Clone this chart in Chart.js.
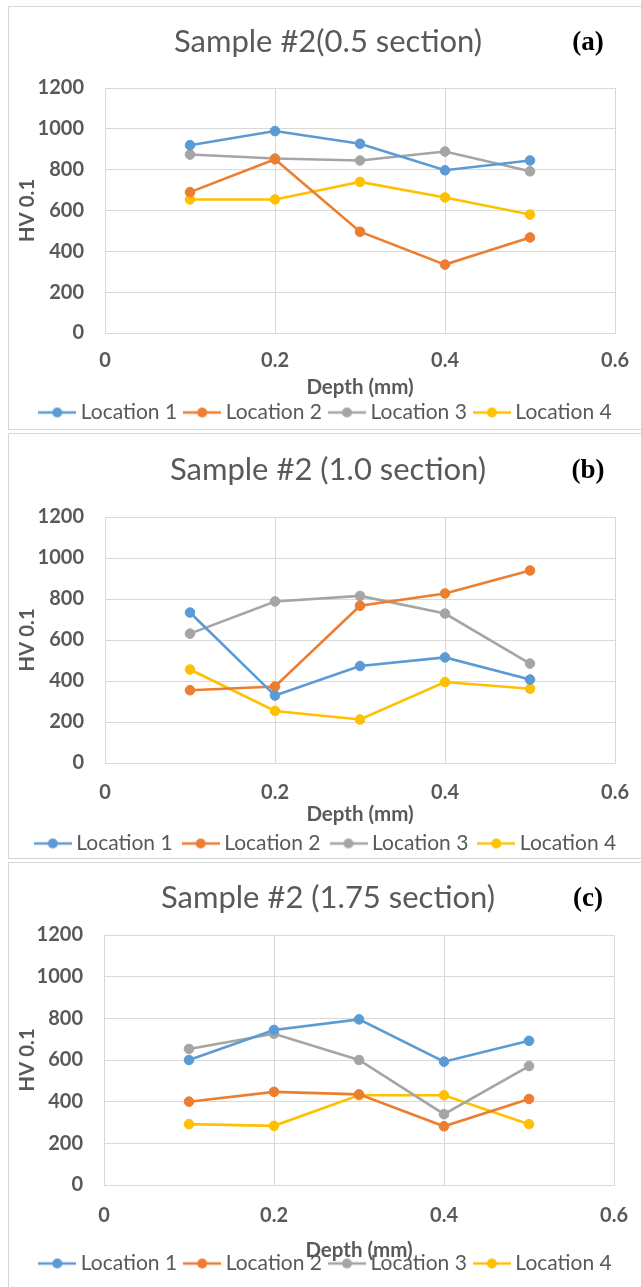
<!DOCTYPE html>
<html><head><meta charset="utf-8">
<script src="https://cdn.jsdelivr.net/npm/chart.js@4"></script>
<style>
html,body{margin:0;padding:0;background:#fff;}
body{width:641px;height:1287px;position:relative;overflow:hidden;}
.frame{position:absolute;border:1px solid #d6d6d6;box-sizing:border-box;}
canvas{position:absolute;}
</style></head><body>
<div class="frame" style="left:8px;top:6px;width:650px;height:424px"></div>
<div class="frame" style="left:8px;top:433px;width:650px;height:426px"></div>
<div class="frame" style="left:8px;top:862px;width:650px;height:440px"></div>
<canvas id="c0"></canvas>
<canvas id="c1"></canvas>
<canvas id="c2"></canvas>
<script>
// ---- data ----
const depth = [0.1, 0.2, 0.3, 0.4, 0.5];
const seriesNames = ['Location 1', 'Location 2', 'Location 3', 'Location 4'];
const xTicks = [0, 0.2, 0.4, 0.6];
const yTicks = [0, 200, 400, 600, 800, 1000, 1200];
const panelTitles = ['Sample #2(0.5 section)', 'Sample #2 (1.0 section)', 'Sample #2 (1.75 section)'];
const panelTags = ['(a)', '(b)', '(c)'];

// (a) 0.5 section
const a_loc1 = [920, 989, 927, 797, 845];
const a_loc2 = [690, 851, 496, 335, 468];
const a_loc3 = [874, 855, 845, 889, 792];
const a_loc4 = [654, 654, 740, 664, 580];
// (b) 1.0 section
const b_loc1 = [734, 329, 473, 515, 407];
const b_loc2 = [355, 373, 767, 827, 939];
const b_loc3 = [631, 788, 815, 729, 485];
const b_loc4 = [456, 254, 212, 395, 362];
// (c) 1.75 section
const c_loc1 = [600, 744, 795, 592, 692];
const c_loc2 = [400, 447, 435, 282, 413];
const c_loc3 = [653, 726, 600, 340, 571];
const c_loc4 = [292, 284, 431, 431, 292];

const panelData = [
  [a_loc1, a_loc2, a_loc3, a_loc4],
  [b_loc1, b_loc2, b_loc3, b_loc4],
  [c_loc1, c_loc2, c_loc3, c_loc4]
];

// ---- styling / layout ----
const colors = ['#5B9BD5', '#ED7D31', '#A5A5A5', '#FFC000'];
const TXT = '#595959';
const GRID = '#d9d9d9';
const FONT = 'Lato, "Open Sans", sans-serif';
const CL = 9, CW = 638;
const LEG = 21;
const layouts = [
  {top: 7,   plotTop: 88,  plotBottom: 331,  plotLeft: 105, plotRight: 615, titleY: 42,  tickY: 359,  xTitleY: 385,  legendY: 410,  pad: 12},
  {top: 434, plotTop: 517, plotBottom: 758,  plotLeft: 105, plotRight: 615, titleY: 470, tickY: 788,  xTitleY: 809,  legendY: 838,  pad: 15},
  {top: 863, plotTop: 935, plotBottom: 1183, plotLeft: 104, plotRight: 615, titleY: 898, tickY: 1214, xTitleY: 1248, legendY: 1261, pad: 12}
];

function legendImage(color) {
  const c = document.createElement('canvas');
  c.width = 38; c.height = 14;
  const g = c.getContext('2d');
  g.strokeStyle = color; g.lineWidth = 2.5;
  g.beginPath(); g.moveTo(0, 7); g.lineTo(38, 7); g.stroke();
  g.fillStyle = color;
  g.beginPath(); g.arc(19, 7, 5, 0, Math.PI * 2); g.fill();
  return c;
}
const legendImgs = colors.map(legendImage);

function makeChart(idx) {
  const L = layouts[idx];
  const titleSize = 31, titleLH = titleSize * 1.2;
  const legendTop = L.legendY - L.pad - LEG / 2;
  const canvasH = Math.ceil(legendTop + 2 * L.pad + LEG - L.top);
  const cv = document.getElementById('c' + idx);
  cv.width = CW; cv.height = canvasH;
  cv.style.left = CL + 'px'; cv.style.top = L.top + 'px';
  cv.style.width = CW + 'px'; cv.style.height = canvasH + 'px';
  const tPadTop = L.titleY - L.top - titleLH / 2;
  const tPadBot = (L.plotTop - L.top) - tPadTop - titleLH;
  const xH = (L.top + canvasH - (2 * L.pad + LEG)) - L.plotBottom;
  const realLegendTop = L.plotBottom + xH;

  const datasets = panelData[idx].map((vals, i) => ({
    label: seriesNames[i],
    data: depth.map((d, j) => ({x: d, y: vals[j]})),
    borderColor: colors[i],
    backgroundColor: colors[i],
    pointBackgroundColor: colors[i],
    pointBorderColor: colors[i],
    borderWidth: 2.6,
    pointRadius: 4.8,
    pointBorderWidth: 1,
    tension: 0,
    fill: false
  }));

  const tagPlugin = {
    id: 'tag' + idx,
    afterDraw(chart) {
      const ctx = chart.ctx;
      ctx.save();
      ctx.font = 'bold 27px "Liberation Serif", serif';
      ctx.fillStyle = '#000';
      ctx.textAlign = 'center';
      ctx.textBaseline = 'middle';
      ctx.fillText(panelTags[idx], 588 - CL, L.titleY - L.top + 1);
      ctx.restore();
    }
  };

  new Chart(cv, {
    type: 'line',
    data: {datasets},
    plugins: [tagPlugin],
    options: {
      responsive: false,
      animation: false,
      devicePixelRatio: 1,
      layout: {padding: 0},
      plugins: {
        tooltip: {enabled: false},
        title: {
          display: true,
          text: panelTitles[idx],
          color: TXT,
          font: {family: FONT, size: titleSize, weight: 'normal', lineHeight: 1.2},
          padding: {top: tPadTop, bottom: tPadBot}
        },
        legend: {
          position: 'bottom',
          align: 'center',
          labels: {
            color: TXT,
            font: {family: FONT, size: LEG, weight: 'normal'},
            usePointStyle: true,
            pointStyleWidth: 26,
            boxHeight: 14,
            padding: L.pad,
            generateLabels(chart) {
              const items = Chart.defaults.plugins.legend.labels.generateLabels(chart);
              items.forEach((it, i) => { it.pointStyle = legendImgs[i]; });
              return items;
            }
          }
        }
      },
      scales: {
        x: {
          type: 'linear',
          min: xTicks[0], max: xTicks[xTicks.length - 1],
          afterBuildTicks(s) { s.ticks = xTicks.map(v => ({value: v})); },
          afterFit(s) { s.height = xH; },
          ticks: {
            color: TXT,
            font: {family: FONT, size: 20, weight: 'bold', lineHeight: 1.2},
            padding: L.tickY - L.plotBottom - 12,
            callback: v => String(+Number(v).toFixed(1))
          },
          grid: {color: GRID, lineWidth: 1, drawTicks: false},
          border: {color: GRID, width: 1},
          title: {
            display: true, text: 'Depth (mm)', color: TXT,
            font: {family: FONT, size: 20.5, weight: 'bold', lineHeight: 1},
            padding: {top: 0, bottom: (realLegendTop - L.xTitleY) - 10.25}
          }
        },
        y: {
          type: 'linear',
          position: 'left',
          min: yTicks[0], max: yTicks[yTicks.length - 1],
          afterBuildTicks(s) { s.ticks = yTicks.map(v => ({value: v})); },
          afterFit(s) { s.width = L.plotLeft - CL; },
          ticks: {
            color: TXT,
            font: {family: FONT, size: 20, weight: 'bold', lineHeight: 1.2},
            padding: 21,
            callback: v => String(v)
          },
          grid: {color: GRID, lineWidth: 1, drawTicks: false},
          border: {color: GRID, width: 1},
          title: {
            display: true, text: 'HV 0.1', color: TXT,
            font: {family: FONT, size: 20.5, weight: 'bold', lineHeight: 1.2},
            padding: {top: 18 - 12.3, bottom: 0}
          }
        },
        yRight: {
          type: 'linear',
          position: 'right',
          display: true,
          min: 0, max: 1,
          afterFit(s) { s.width = CL + CW - L.plotRight; },
          ticks: {display: false},
          grid: {display: false, drawTicks: false},
          border: {display: false},
          title: {display: false}
        }
      }
    }
  });
}
[0, 1, 2].forEach(makeChart);
</script>
</body></html>
